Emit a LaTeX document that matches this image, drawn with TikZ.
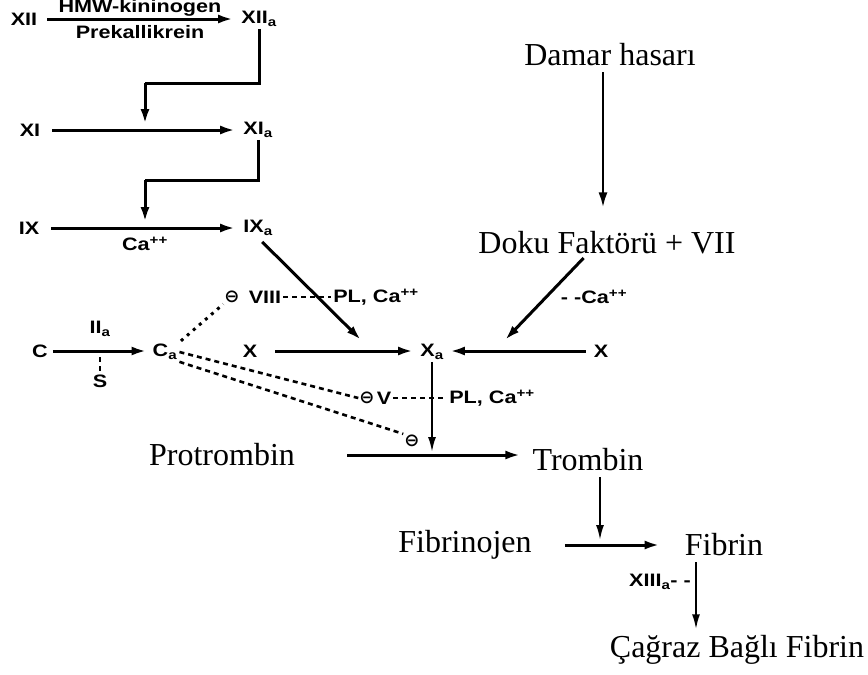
\documentclass[tikz,border=0pt]{standalone}
\usepackage{fontspec}
\setmainfont{Liberation Serif}
\newfontfamily\labfont[FakeStretch=1.2]{Liberation Sans}
\newfontfamily\symfont{DejaVu Sans}
\usetikzlibrary{arrows.meta}
\begin{document}
\begin{tikzpicture}[x=1pt,y=-1pt,
 lab/.style={font=\labfont\bfseries\fontsize{18}{21}\selectfont, inner sep=2pt},
 big/.style={font=\fontsize{32}{36}\selectfont, inner sep=2pt},
 arr/.style={line width=3pt, -{Latex[length=15pt,width=9pt]}},
 tarr/.style={line width=2pt, -{Latex[length=15pt,width=8pt]}},
 dashl/.style={line width=2.6pt, dash pattern=on 5pt off 4pt},
 dotl/.style={line width=3pt, dash pattern=on 3pt off 5pt},
 inh/.style={font=\symfont\bfseries\fontsize{18}{20}\selectfont, inner sep=1pt}]
\useasboundingbox (0,0) rectangle (868,675);

% intrinsic cascade
\node[lab] (XII) at (24,19) {XII};
\node[lab] (XIIa) at (259,19) {XII\textsubscript{a}};
\node[lab] (hmw) at (140,8) {HMW-kininogen};
\node[lab] (prek) at (140,32) {Prekallikrein};
\draw[arr] ([xshift=8pt]XII.east) -- ([xshift=-6pt]XII.east -| XIIa.west);

\node[lab] (XI) at (30,130) {XI};
\node[lab] (XIa) at (258,130) {XI\textsubscript{a}};
\draw[arr] ([xshift=10pt]XI.east) -- ([xshift=-6pt]XI.east -| XIa.west);
\coordinate (b1) at (145,83);
\coordinate (k1) at (145,124);
\draw[arr, -] (XIIa.south) |- (b1);
\draw[arr] (b1) -- (k1);

\node[lab] (IX) at (29,228) {IX};
\node[lab] (IXa) at (258,228) {IX\textsubscript{a}};
\node[lab] (ca1) at (145,244) {Ca\textsuperscript{++}};
\draw[arr] ([xshift=10pt]IX.east) -- ([xshift=-6pt]IX.east -| IXa.west);
\coordinate (b2) at (145,180);
\coordinate (k2) at (145,222);
\draw[arr, -] (XIa.south) |- (b2);
\draw[arr] (b2) -- (k2);

% IXa to Xa
\coordinate (d1) at (361,340);
\draw[arr, shorten <=6pt] (IXa.south) -- (d1);

\node[inh] (inh1) at (232,297) {⊖};
\node[lab] (viii) at (265,297) {VIII};
\node[lab] (plca1) at (376,297) {PL, Ca\textsuperscript{++}};
\draw[dashl, line width=2pt] (viii.east) -- (plca1.west);

% protein C
\node[lab] (C) at (40,351) {C};
\node[lab] (Ca) at (165,352) {C\textsubscript{a}};
\node[lab] (IIa) at (100,329) {II\textsubscript{a}};
\node[lab] (S) at (100,381) {S};
\coordinate (s1) at (100,357);
\draw[arr] ([xshift=3pt]C.east) -- ([xshift=-4pt]C.east -| Ca.west);
\draw[dashl, line width=2pt] (s1) -- (S.north);
\draw[dotl, shorten <=2pt] (Ca.north east) -- (inh1.south west);

% X -> Xa
\node[lab] (X) at (250,351) {X};
\node[lab] (Xa) at (432,352) {X\textsubscript{a}};
\node[lab] (Xr) at (601,351) {X};
\draw[arr] ([xshift=16pt]X.east) -- ([xshift=-5pt]X.east -| Xa.west);
\draw[arr] ([xshift=-6pt]Xr.west) -- ([xshift=4pt]Xr.west -| Xa.east);

% extrinsic
\node[big] (damar) at (610,55) {Damar hasarı};
\node[big] (doku) at (607,243) {Doku Faktörü + VII};
\draw[arr, line width=2.4pt, shorten <=4pt, shorten >=22pt] ([xshift=-7pt]damar.south) -- ([xshift=-7pt]damar.south |- doku.north);
\coordinate (d2) at (505,340);
\draw[arr, shorten <=2pt] ([xshift=-22pt]doku.south) -- (d2);
\node[lab] (ca2) at (594,297) {- -Ca\textsuperscript{++}};

% V
\node[inh] (inh2) at (367,398) {⊖};
\node[lab] (vv) at (384,398) {V};
\node[lab] (plca2) at (492,398) {PL, Ca\textsuperscript{++}};
\draw[dashl, line width=2pt] (vv.east) -- (plca2.west);
\node[inh] (inh3) at (412,441) {⊖};
\draw[dashl] (Ca.east) -- (inh2.west);
\draw[dashl] (Ca.south east) -- (inh3.north west);

% prothrombin
\node[big] (prot) at (222,455) {Protrombin};
\node[big] (trom) at (588,460) {Trombin};
\draw[arr] ([xshift=50pt]prot.east) -- ([xshift=-10pt]prot.east -| trom.west);
\coordinate (pm) at (432,455);
\draw[tarr, shorten >=3pt] (Xa.south) -- (pm);

% fibrin
\node[big] (fibj) at (465,545) {Fibrinojen};
\node[big] (fib) at (724,545) {Fibrin};
\draw[arr] ([xshift=31pt]fibj.east) -- ([xshift=-23pt]fibj.east -| fib.west);
\coordinate (fm) at (600,545);
\draw[tarr, shorten <=4pt, shorten >=5pt] ([xshift=12pt]trom.south) -- (fm);

\node[big] (cag) at (737,650) {Çağraz Bağlı Fibrin};
\node[lab] (xiii) at (660,582) {XIII\textsubscript{a}- -};
\draw[tarr, shorten <=4pt, shorten >=4pt] ([xshift=-28pt]fib.south) -- ([xshift=-28pt]fib.south |- cag.north);
\end{tikzpicture}
\end{document}
